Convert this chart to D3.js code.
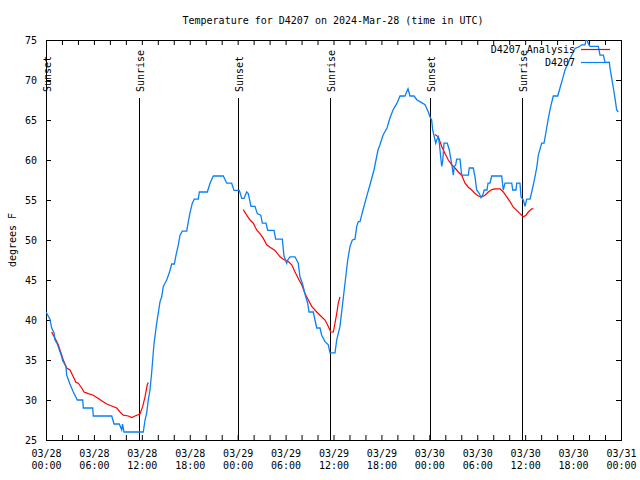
<!DOCTYPE html>
<html>
<head>
<meta charset="utf-8">
<script src="https://cdn.jsdelivr.net/npm/d3@7"></script>
<style>
  html, body { margin: 0; padding: 0; background: #fff; }
  svg { display: block; }
  text { font-family: "DejaVu Sans Mono", "Liberation Mono", monospace; font-size: 10px; fill: #000; }
</style>
</head>
<body>
<svg id="chart" width="640" height="480"></svg>
<script>
// ---- data (hours after 2024-03-28 00:00 UTC, degrees F) ----
const titleText = "Temperature for D4207 on 2024-Mar-28 (time in UTC)";
const yLabel = "degrees F";
const seriesNames = ["D4207 Analysis", "D4207"];

const obsHours = [0,0.5,0.71,1.0,1.13,1.42,1.97,2.09,2.5,2.59,3.0,3.42,3.92,4.6,4.67,5.85,5.92,8.23,8.52,9.18,9.48,9.58,9.77,12.18,12.4,12.61,12.81,13.02,13.23,13.52,13.86,14.06,14.28,14.49,14.69,14.9,15.11,15.44,15.74,16.07,16.28,16.57,16.78,17.07,17.62,17.82,18.03,18.32,18.57,19.07,19.2,20.2,20.54,20.95,22.2,22.63,23.25,23.54,24.21,24.51,24.79,25.13,25.33,25.67,26.17,26.46,26.89,27.09,27.55,27.76,28.55,28.76,29.59,29.8,30.14,30.27,30.55,31.18,31.59,31.8,32.1,32.31,32.52,32.77,32.93,33.47,33.68,33.9,34.31,34.52,34.94,35.35,35.56,36.19,36.4,36.81,37.15,37.44,37.78,38.07,38.36,38.69,38.91,39.11,39.32,39.69,40.2,40.57,41.07,41.57,41.82,42.2,42.7,43.07,43.45,43.95,44.33,44.95,45.33,45.58,46.08,46.46,46.83,47.46,47.87,48.08,48.29,48.42,48.62,48.8,48.92,49.12,49.25,49.42,49.55,49.67,49.84,50.25,50.5,50.68,50.88,51.0,51.13,51.3,51.43,51.84,52.05,52.88,53.0,53.5,53.72,53.93,54.26,54.47,54.68,54.88,55.22,55.35,55.6,55.81,57.06,57.26,57.48,58.32,58.44,58.85,58.94,59.35,59.48,59.77,59.98,60.19,60.61,60.82,61.11,61.44,61.65,62.07,62.36,62.61,62.9,63.2,63.52,64.08,64.36,64.7,64.99,65.4,65.83,66.24,66.65,67.08,67.49,67.71,67.87,68.12,69.16,69.37,69.79,70.0,70.54,70.62,70.84,71.04,71.25,71.46,71.66];
const obsTemps = [41,40.1,39,38.4,37.5,37,35.4,34.9,34.2,33.1,32,31,30,30,29,29,28,28,27,27,26.25,27,26,26,27.5,28.4,30,31.25,33.4,37.0,39.6,40.9,42.3,42.9,44.2,44.6,45,45.9,47,47,48.1,49.4,50.6,51.1,51.1,52.3,53.4,54.6,55.1,55.1,56,56,57.1,58,58,57.1,57.1,56.2,56.2,55.2,55.2,56,55.8,54.2,54.2,53.3,53.1,52.1,52.1,51.2,51.2,50.1,50.1,48,47.1,47.5,47.9,47.9,47.1,45.4,44.6,43.75,42.9,42.1,41,41,40,39,39,38.1,37.3,36.9,35.9,35.9,37.5,39.2,42.1,44.6,47.5,49.2,50,50.1,51.7,52.3,52.3,53.75,55.6,56.9,58.75,61.25,61.9,63.1,64,65.25,66.25,67.1,68,68,68.9,68,68,67.5,67.3,66.9,66,65.4,65,63.75,62.9,62.1,62.5,62.9,62.1,60.4,59.2,59.8,62.1,62.1,61.25,60.2,59,58.1,59.2,59.4,60.1,60.1,58.1,58.1,59,59,57.9,56.25,55.8,55.3,55.6,56.25,56.25,57.1,57.1,58,58,56.25,57.1,57.1,56.25,56.25,57.1,57.1,55.4,55,54.2,55.1,55.1,56,57.3,59,60.6,62.1,62.1,63.5,65.2,66.7,68,68,69,70.2,71.25,72.2,73.1,73.95,74.1,74.4,74.4,75.4,74.6,74.2,74.2,73.1,73.1,72.2,72.2,71.5,70.2,69,67.7,66.25,66];

// analysis series; null marks a gap between runs
const anaHours = [0.71,1.13,1.54,1.75,2.17,2.59,3.0,3.42,3.76,4.04,4.47,4.76,5.3,5.92,6.55,6.97,7.6,8.23,8.85,9.27,9.68,10.31,10.73,11.14,11.77,12.11,12.4,12.68,12.81,
  null,
  24.71,25.13,25.55,25.96,26.38,26.8,27.21,27.64,28.05,28.68,29.3,29.71,30.34,30.77,31.18,31.59,32.02,32.43,32.85,33.27,33.9,34.31,34.94,35.35,35.65,35.98,36.19,36.4,36.6,36.81,
  null,
  48.71,49.12,49.55,49.96,50.38,50.8,51.22,51.63,52.05,52.47,52.88,53.31,53.72,54.13,54.56,54.97,55.39,55.81,56.22,56.85,57.26,57.69,58.1,58.52,58.94,59.35,59.77,60.1,60.39,60.82,61.02];
const anaTemps = [38.5,37.7,36.9,36.25,35,34,33.75,32.9,32.2,32.1,31.5,31,30.8,30.6,30.2,29.9,29.5,29.25,29,28.5,28.1,28,27.8,28,28.25,29.2,30.4,31.9,32.2,
  null,
  53.8,53.1,52.5,52.1,51.25,50.8,50.2,49.4,49.1,48.7,47.9,47.6,47.3,46.9,46,45.2,44.4,43.3,42.5,41.7,41,40.6,40,39.2,38.5,38.5,39.6,40.8,42.1,42.9,
  null,
  63.2,62.9,61.7,60.8,60,59.4,59,58.5,58.1,57.1,56.6,56.25,55.8,55.5,55.4,55.6,56,56.3,56.4,56.4,56,55.4,54.8,54.1,53.7,53.3,52.9,53.1,53.5,53.9,53.9];

const sunHours = [0.0, 11.7, 24.04, 35.56, 48.12, 59.64];
const sunLabels = ["Sunset", "Sunrise", "Sunset", "Sunrise", "Sunset", "Sunrise"];

const yTicks = [25,30,35,40,45,50,55,60,65,70,75];
const yDomain = [25, 75];
const spanHours = 72;

// ---- drawing ----
const HOUR = 3600 * 1000;
const t0 = Date.UTC(2024, 2, 28, 0, 0, 0);
const toDate = h => new Date(t0 + h * HOUR);

const margin = {left: 46, right: 19, top: 40, bottom: 40};
const W = 640, H = 480;
const svg = d3.select("#chart");

const x = d3.scaleUtc().domain([toDate(0), toDate(spanHours)]).range([margin.left, W - margin.right]);
const y = d3.scaleLinear().domain(yDomain).range([H - margin.bottom, margin.top]);

const obs = obsHours.map((h, i) => ({t: toDate(h), v: obsTemps[i]}));
const ana = anaHours.map((h, i) => ({t: h == null ? null : toDate(h), v: anaTemps[i]}));

svg.append("defs").append("clipPath").attr("id", "clip")
  .append("rect").attr("x", margin.left).attr("y", margin.top)
  .attr("width", W - margin.left - margin.right).attr("height", H - margin.top - margin.bottom);

// title
svg.append("text").attr("x", 333).attr("y", 24).attr("text-anchor", "middle").text(titleText);

// y label
svg.append("text").attr("transform", `translate(12,${(margin.top + H - margin.bottom) / 2}) rotate(-90)`)
  .attr("text-anchor", "middle").attr("dy", "0.35em").text(yLabel);

// axes
const xTicks = d3.utcHour.every(2).range(toDate(0), toDate(spanHours + 0.01));
const fmtDay = d3.utcFormat("%m/%d"), fmtTime = d3.utcFormat("%H:%M");

const gx = svg.append("g").attr("transform", `translate(0,${H - margin.bottom})`)
  .call(d3.axisBottom(x).tickValues(xTicks).tickSizeInner(-5).tickSizeOuter(0).tickPadding(10)
    .tickFormat(d => d.getUTCHours() % 6 === 0 ? "x" : ""));
gx.selectAll(".tick text").each(function(d) {
  const t = d3.select(this);
  if (t.text() === "") return;
  t.text(null);
  t.append("tspan").attr("x", 0).text(fmtDay(d));
  t.append("tspan").attr("x", 0).attr("dy", 12).text(fmtTime(d));
});
svg.append("g").attr("transform", `translate(0,${margin.top})`)
  .call(d3.axisTop(x).tickValues(xTicks).tickSizeInner(-5).tickSizeOuter(0).tickFormat(""));

svg.append("g").attr("transform", `translate(${margin.left},0)`)
  .call(d3.axisLeft(y).tickValues(yTicks).tickSizeInner(-5).tickSizeOuter(0).tickPadding(9).tickFormat(d3.format("d")));
svg.append("g").attr("transform", `translate(${W - margin.right},0)`)
  .call(d3.axisRight(y).tickValues(yTicks).tickSizeInner(-5).tickSizeOuter(0).tickFormat(""));

svg.selectAll(".domain").remove();
svg.selectAll(".tick line").attr("stroke", "#000");
svg.selectAll(".tick text").attr("font-family", null).attr("font-size", null);

// frame
svg.append("rect").attr("x", margin.left + 0.5).attr("y", margin.top + 0.5)
  .attr("width", W - margin.left - margin.right).attr("height", H - margin.top - margin.bottom)
  .attr("fill", "none").attr("stroke", "#000").attr("stroke-width", 1);

// sun lines
const sun = sunHours.map((h, i) => ({t: toDate(h), label: sunLabels[i]}));
const sg = svg.append("g");
sg.selectAll("line").data(sun).join("line")
  .attr("x1", d => Math.round(x(d.t)) + 0.5).attr("x2", d => Math.round(x(d.t)) + 0.5)
  .attr("y1", 98).attr("y2", H - margin.bottom)
  .attr("stroke", "#000").attr("stroke-width", 1);
sg.selectAll("text").data(sun).join("text")
  .attr("transform", d => `translate(${Math.round(x(d.t)) + 1},92) rotate(-90)`)
  .attr("dy", "0.35em").attr("text-anchor", "start").text(d => d.label);

// series
const line = d3.line().defined(d => d.t != null && d.v != null).x(d => x(d.t)).y(d => y(d.v));
const plot = svg.append("g").attr("clip-path", "url(#clip)");
plot.append("path").datum(ana).attr("d", line).attr("fill", "none").attr("stroke", "#ff0000").attr("stroke-width", 1.2);
plot.append("path").datum(obs).attr("d", line).attr("fill", "none").attr("stroke", "#0a80f5").attr("stroke-width", 1.3);

// legend
const colors = ["#ff0000", "#0a80f5"];
const lg = svg.append("g");
seriesNames.forEach((name, i) => {
  const ly = 49 + i * 13;
  lg.append("text").attr("x", 575).attr("y", ly).attr("dy", "0.35em").attr("text-anchor", "end").text(name);
  lg.append("line").attr("x1", 581).attr("x2", 610).attr("y1", ly + 0.5).attr("y2", ly + 0.5)
    .attr("stroke", colors[i]).attr("stroke-width", 1.2);
});
</script>
</body>
</html>
